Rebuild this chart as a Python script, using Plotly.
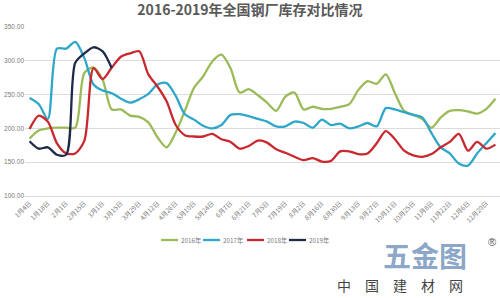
import plotly.graph_objects as go

weeks = ["1月4日","1月11日","1月18日","1月25日","2月1日","2月8日","2月15日","2月22日",
         "3月1日","3月8日","3月15日","3月22日","3月29日","4月5日","4月12日","4月19日",
         "4月26日","5月3日","5月10日","5月17日","5月24日","5月31日","6月7日","6月14日",
         "6月21日","6月28日","7月5日","7月12日","7月19日","7月26日","8月2日","8月9日",
         "8月16日","8月23日","8月30日","9月6日","9月13日","9月20日","9月27日","10月4日",
         "10月11日","10月18日","10月25日","11月1日","11月8日","11月15日","11月22日","11月29日",
         "12月6日","12月13日","12月20日","12月27日"]

y2016 = [185,197,200,201,201,201,282,290,272,228,228,219,217,209,187,172,194,226,260,277,
         299,309,289,253,258,249,238,226,247,253,228,232,229,229,232,236,257,270,266,280,
         252,226,220,214,201,216,226,227,225,222,229,244]
y2017 = [245,236,214,318,318,328,304,265,256,252,244,238,243,251,265,267,248,221,213,204,
         200,205,220,221,218,214,210,203,203,210,208,201,213,205,207,200,203,208,203,230,
         228,224,220,216,193,172,163,148,145,163,178,193]
y2018 = [199,219,210,178,163,163,182,289,273,290,306,311,314,280,262,240,205,190,188,188,
         192,184,180,170,174,182,179,169,164,158,153,156,151,152,166,166,162,163,178,196,
         184,167,160,158,162,172,180,192,167,180,170,176]
y2019 = [181,170,172,161,161,297,311,320,314,289]

names = ["2016年", "2017年", "2018年", "2019年"]
colors = ["#9BBB59", "#2EA7C9", "#C8282E", "#1F2A4A"]
values = [y2016, y2017, y2018, y2019]

cjk = "Noto Sans CJK SC"
L, R, T, B, W, H = 25, 0, 27, 102, 500, 298
pw, ph = W - L - R, H - T - B


def px2paper(x, y):
    return (x - L) / pw, (H - B - y) / ph


fig = go.Figure()
for name, vals, col in zip(names, values, colors):
    fig.add_trace(go.Scatter(x=weeks[:len(vals)], y=vals, name=name, mode="lines",
                             line=dict(color=col, width=2.3, shape="spline", smoothing=0.8)))

fig.update_layout(
    width=W, height=H,
    margin=dict(l=L, r=R, t=T, b=B),
    paper_bgcolor="white", plot_bgcolor="white",
    title=dict(text="<b>2016-2019年全国钢厂库存对比情况</b>", x=0.5, xanchor="center",
               y=0.965, yanchor="middle", font=dict(family=cjk, size=14, color="#595959")),
    xaxis=dict(type="category", categoryorder="array", categoryarray=weeks,
               range=[-0.5, 51.5], tickvals=weeks[::2], tickangle=-45,
               tickfont=dict(family=cjk, size=6.5, color="#7a7a7a"),
               showgrid=False, showline=True, linecolor="#D9D9D9", ticks=""),
    yaxis=dict(range=[100, 350], dtick=50, tickformat=".2f",
               tickfont=dict(family="Liberation Sans", size=6.5, color="#7a7a7a"),
               showgrid=True, gridcolor="#DCDCDC", gridwidth=1, zeroline=False,
               showline=False, ticks=""),
    showlegend=False,
)

# legend drawn as line samples + labels
leg_x = [161, 203, 247, 289]
leg_y = 240
for x0, name, col in zip(leg_x, names, colors):
    a0, b0 = px2paper(x0, leg_y)
    a1, _ = px2paper(x0 + 17, leg_y)
    fig.add_shape(type="line", xref="paper", yref="paper", x0=a0, x1=a1, y0=b0, y1=b0,
                  line=dict(color=col, width=2.3))
    ta, _ = px2paper(x0 + 18, leg_y)
    fig.add_annotation(text=name, xref="paper", yref="paper", x=ta, y=b0,
                       xanchor="left", yanchor="middle", showarrow=False,
                       font=dict(family=cjk, size=6.3, color="#7a7a7a"))

ax, ay = px2paper(400, 285)
fig.add_annotation(text="中　国　建　材　网", xref="paper", yref="paper", x=ax, y=ay,
                   xanchor="center", yanchor="middle", showarrow=False,
                   font=dict(family=cjk, size=14, color="#444444"))
ax, ay = px2paper(425, 255)
fig.add_annotation(text="<b>五金图</b>", xref="paper", yref="paper", x=ax, y=ay,
                   xanchor="center", yanchor="middle", showarrow=False,
                   font=dict(family=cjk, size=28, color="rgba(40,90,150,0.55)"))
ax, ay = px2paper(492, 242)
fig.add_annotation(text="®", xref="paper", yref="paper", x=ax, y=ay,
                   xanchor="center", yanchor="middle", showarrow=False,
                   font=dict(family="Liberation Sans", size=11, color="#555555"))

fig.write_html("out.html")
